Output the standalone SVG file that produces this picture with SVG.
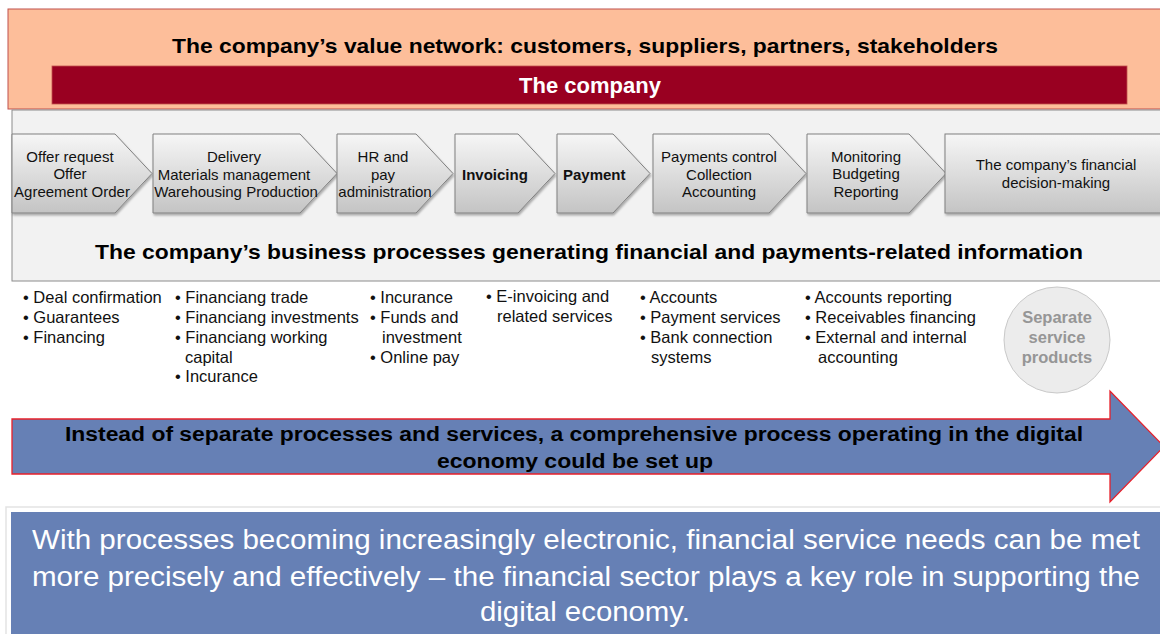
<svg xmlns="http://www.w3.org/2000/svg" width="1160" height="634" viewBox="0 0 1160 634">
  <style>
    text { font-family: "Liberation Sans", Arial, sans-serif; }
    .title { font-size: 21px; font-weight: bold; fill: #000; text-anchor: middle; }
    .chev { fill: url(#chevFill); stroke: #808080; stroke-width: 1; filter: url(#shadow); }
    .ctext { font-size: 15px; fill: #111; text-anchor: middle; }
    .cbold { font-size: 15px; font-weight: bold; fill: #111; }
    .bul { font-size: 16.5px; fill: #111; }
    .circ { font-size: 16.5px; font-weight: bold; fill: #969696; text-anchor: middle; }
    .arrowtxt { font-size: 20px; font-weight: bold; fill: #000; text-anchor: middle; }
    .bottomtxt { font-size: 27px; fill: #fff; text-anchor: middle; }
  </style>
  <defs>
    <linearGradient id="chevFill" x1="0" y1="0" x2="0" y2="1">
      <stop offset="0" stop-color="#f6f6f6"/>
      <stop offset="1" stop-color="#c4c4c4"/>
    </linearGradient>
    <filter id="shadow" x="-5%" y="-5%" width="110%" height="120%">
      <feDropShadow dx="1" dy="2" stdDeviation="1.2" flood-color="#000" flood-opacity="0.3"/>
    </filter>
  </defs>

  <rect width="1160" height="634" fill="#fff"/>

  <!-- value network band -->
  <g id="value-network">
    <rect x="8" y="9" width="1160" height="100" fill="#fdbe9a" stroke="#c0504d" stroke-width="1"/>
    <text class="title" x="585" y="53" textLength="826" lengthAdjust="spacingAndGlyphs">The company’s value network: customers, suppliers, partners, stakeholders</text>
  </g>

  <g id="company">
    <rect x="52" y="66" width="1075" height="38" fill="#990021" stroke="#c0504d" stroke-width="0.8"/>
    <text x="590" y="93" font-size="22" font-weight="bold" fill="#fff" text-anchor="middle">The company</text>
  </g>

  <!-- business process panel -->
  <g id="process-panel">
    <rect x="12" y="110" width="1160" height="171" fill="#f2f2f2" stroke="#8c8c8c" stroke-width="1"/>
    <text class="title" x="589" y="259" textLength="988" lengthAdjust="spacingAndGlyphs">The company’s business processes generating financial and payments-related information</text>
  </g>

  <g id="step-offer">
    <path class="chev" d="M12,134 H115 L152,173.5 L115,213 H12 Z"/>
    <text class="ctext" x="70" y="162">Offer request</text>
    <text class="ctext" x="70" y="179">Offer</text>
    <text class="ctext" x="72" y="197">Agreement Order</text>
  </g>
  <g id="step-delivery">
    <path class="chev" d="M153,134 H300 L337,173.5 L300,213 H153 Z"/>
    <text class="ctext" x="234" y="162">Delivery</text>
    <text class="ctext" x="234" y="180">Materials management</text>
    <text class="ctext" x="236" y="197">Warehousing Production</text>
  </g>
  <g id="step-hr">
    <path class="chev" d="M337,134 H416 L453,173.5 L416,213 H337 Z"/>
    <text class="ctext" x="383" y="162">HR and</text>
    <text class="ctext" x="383" y="180">pay</text>
    <text class="ctext" x="385" y="197">administration</text>
  </g>
  <g id="step-invoicing">
    <path class="chev" d="M455,134 H518 L555,173.5 L518,213 H455 Z"/>
    <text class="cbold" x="462" y="180">Invoicing</text>
  </g>
  <g id="step-payment">
    <path class="chev" d="M557,134 H613 L650,173.5 L613,213 H557 Z"/>
    <text class="cbold" x="563" y="180">Payment</text>
  </g>
  <g id="step-control">
    <path class="chev" d="M653,134 H769 L806,173.5 L769,213 H653 Z"/>
    <text class="ctext" x="719" y="162">Payments control</text>
    <text class="ctext" x="719" y="180">Collection</text>
    <text class="ctext" x="719" y="197">Accounting</text>
  </g>
  <g id="step-monitoring">
    <path class="chev" d="M807,134 H909 L946,173.5 L909,213 H807 Z"/>
    <text class="ctext" x="866" y="162">Monitoring</text>
    <text class="ctext" x="866" y="179">Budgeting</text>
    <text class="ctext" x="866" y="197">Reporting</text>
  </g>
  <g id="step-decision">
    <rect class="chev" x="945" y="134" width="230" height="79"/>
    <text class="ctext" x="1056" y="170">The company’s financial</text>
    <text class="ctext" x="1056" y="188">decision-making</text>
  </g>

  <!-- service lists -->
  <g id="services-offer" class="bul">
    <text x="23" y="303">• Deal confirmation</text>
    <text x="23" y="323">• Guarantees</text>
    <text x="23" y="343">• Financing</text>
  </g>
  <g id="services-delivery" class="bul">
    <text x="175" y="303">• Financiang trade</text>
    <text x="175" y="323">• Financiang investments</text>
    <text x="175" y="343">• Financiang working</text>
    <text x="185" y="363">capital</text>
    <text x="175" y="382">• Incurance</text>
  </g>
  <g id="services-hr" class="bul">
    <text x="370" y="303">• Incurance</text>
    <text x="370" y="323">• Funds and</text>
    <text x="382" y="343">investment</text>
    <text x="370" y="363">• Online pay</text>
  </g>
  <g id="services-invoicing" class="bul">
    <text x="486" y="302">• E-invoicing and</text>
    <text x="497" y="322">related services</text>
  </g>
  <g id="services-payment" class="bul">
    <text x="640" y="303">• Accounts</text>
    <text x="640" y="323">• Payment services</text>
    <text x="640" y="343">• Bank connection</text>
    <text x="651" y="363">systems</text>
  </g>
  <g id="services-reporting" class="bul">
    <text x="805" y="303">• Accounts reporting</text>
    <text x="805" y="323">• Receivables financing</text>
    <text x="805" y="343">• External and internal</text>
    <text x="818" y="363">accounting</text>
  </g>

  <g id="separate-products">
    <circle cx="1057" cy="340" r="53" fill="#ececec" stroke="#c9c9c9" stroke-width="1"/>
    <text class="circ" x="1057" y="323">Separate</text>
    <text class="circ" x="1057" y="343">service</text>
    <text class="circ" x="1057" y="363">products</text>
  </g>

  <!-- comprehensive process arrow -->
  <g id="digital-process">
    <path d="M12,419 H1110 V391 L1164,446.5 L1110,502 V474 H12 Z" fill="#6680b5" stroke="#e8202a" stroke-width="1.3"/>
    <text class="arrowtxt" x="574" y="441" textLength="1018" lengthAdjust="spacingAndGlyphs">Instead of separate processes and services, a comprehensive process operating in the digital</text>
    <text class="arrowtxt" x="575" y="468" textLength="276" lengthAdjust="spacingAndGlyphs">economy could be set up</text>
  </g>

  <!-- conclusion box -->
  <g id="conclusion">
    <rect x="6" y="507" width="1160" height="134" fill="none" stroke="#e3e3e3" stroke-width="1.5"/>
    <rect x="11" y="512" width="1160" height="130" fill="#6680b5"/>
    <text class="bottomtxt" x="586" y="549" textLength="1108" lengthAdjust="spacingAndGlyphs">With processes becoming increasingly electronic, financial service needs can be met</text>
    <text class="bottomtxt" x="586" y="586" textLength="1108" lengthAdjust="spacingAndGlyphs">more precisely and effectively – the financial sector plays a key role in supporting the</text>
    <text class="bottomtxt" x="585" y="621" textLength="210" lengthAdjust="spacingAndGlyphs">digital economy.</text>
  </g>
</svg>
